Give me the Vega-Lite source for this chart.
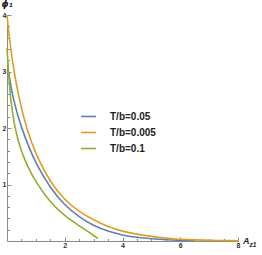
{
  "$schema": "https://vega.github.io/schema/vega-lite/v6.json",
  "autosize": "none",
  "width": 231,
  "height": 226,
  "padding": {"left": 7, "top": 15, "right": 24, "bottom": 14},
  "background": "white",
  "title": {
    "text": "z1",
    "orient": "bottom",
    "anchor": "end",
    "frame": "group",
    "align": "left",
    "baseline": "alphabetic",
    "offset": 0,
    "dx": 11.5,
    "dy": -2.5,
    "font": "Liberation Sans",
    "fontSize": 6.5,
    "fontStyle": "italic",
    "fontWeight": "bold",
    "color": "#222222"
  },
  "config": {
    "view": {"stroke": null},
    "font": "Liberation Sans"
  },
  "data": {"values": [
    {"series": "T/b=0.05", "A": 0.06, "phi": 2.98},
    {"series": "T/b=0.05", "A": 0.21, "phi": 2.5},
    {"series": "T/b=0.05", "A": 0.5, "phi": 2.0},
    {"series": "T/b=0.05", "A": 0.79, "phi": 1.62},
    {"series": "T/b=0.05", "A": 1.0, "phi": 1.38},
    {"series": "T/b=0.05", "A": 1.5, "phi": 0.93},
    {"series": "T/b=0.05", "A": 2.0, "phi": 0.63},
    {"series": "T/b=0.05", "A": 2.5, "phi": 0.42},
    {"series": "T/b=0.05", "A": 3.0, "phi": 0.27},
    {"series": "T/b=0.05", "A": 3.5, "phi": 0.17},
    {"series": "T/b=0.05", "A": 4.0, "phi": 0.1},
    {"series": "T/b=0.05", "A": 4.5, "phi": 0.065},
    {"series": "T/b=0.05", "A": 5.0, "phi": 0.04},
    {"series": "T/b=0.05", "A": 5.5, "phi": 0.02},
    {"series": "T/b=0.05", "A": 6.0, "phi": 0.01},
    {"series": "T/b=0.05", "A": 6.5, "phi": 0.005},
    {"series": "T/b=0.005", "A": 0.0, "phi": 4.0},
    {"series": "T/b=0.005", "A": 0.1, "phi": 3.5},
    {"series": "T/b=0.005", "A": 0.24, "phi": 3.0},
    {"series": "T/b=0.005", "A": 0.44, "phi": 2.47},
    {"series": "T/b=0.005", "A": 0.67, "phi": 2.0},
    {"series": "T/b=0.005", "A": 1.0, "phi": 1.52},
    {"series": "T/b=0.005", "A": 1.5, "phi": 1.04},
    {"series": "T/b=0.005", "A": 2.0, "phi": 0.72},
    {"series": "T/b=0.005", "A": 2.5, "phi": 0.52},
    {"series": "T/b=0.005", "A": 3.0, "phi": 0.37},
    {"series": "T/b=0.005", "A": 3.5, "phi": 0.25},
    {"series": "T/b=0.005", "A": 4.0, "phi": 0.17},
    {"series": "T/b=0.005", "A": 4.5, "phi": 0.12},
    {"series": "T/b=0.005", "A": 5.0, "phi": 0.08},
    {"series": "T/b=0.005", "A": 5.5, "phi": 0.05},
    {"series": "T/b=0.005", "A": 6.0, "phi": 0.03},
    {"series": "T/b=0.005", "A": 6.5, "phi": 0.02},
    {"series": "T/b=0.005", "A": 7.0, "phi": 0.012},
    {"series": "T/b=0.005", "A": 8.0, "phi": 0.005},
    {"series": "T/b=0.1", "A": 0.0, "phi": 3.42},
    {"series": "T/b=0.1", "A": 0.05, "phi": 3.0},
    {"series": "T/b=0.1", "A": 0.12, "phi": 2.5},
    {"series": "T/b=0.1", "A": 0.27, "phi": 2.0},
    {"series": "T/b=0.1", "A": 0.45, "phi": 1.65},
    {"series": "T/b=0.1", "A": 0.7, "phi": 1.33},
    {"series": "T/b=0.1", "A": 1.0, "phi": 1.04},
    {"series": "T/b=0.1", "A": 1.5, "phi": 0.68},
    {"series": "T/b=0.1", "A": 2.0, "phi": 0.44},
    {"series": "T/b=0.1", "A": 2.5, "phi": 0.27},
    {"series": "T/b=0.1", "A": 2.8, "phi": 0.17},
    {"series": "T/b=0.1", "A": 3.0, "phi": 0.1},
    {"series": "T/b=0.1", "A": 3.15, "phi": 0.04}
  ]},
  "mark": {"type": "line", "strokeWidth": 1.6, "interpolate": "basis", "clip": false},
  "encoding": {
    "x": {
      "field": "A", "type": "quantitative",
      "scale": {"domain": [0, 8], "nice": false, "zero": false},
      "axis": {
        "title": "A",
        "titleX": 235.5,
        "titleY": 2,
        "titleAlign": "left",
        "titleBaseline": "alphabetic",
        "titleFont": "Liberation Sans",
        "titleFontSize": 9,
        "titleFontStyle": "italic",
        "titleFontWeight": "bold",
        "titleColor": "#222222",
        "values": [0.5, 1, 1.5, 2, 2.5, 3, 3.5, 4, 4.5, 5, 5.5, 6, 6.5, 7, 7.5, 8],
        "labelExpr": "(datum.value == 2 || datum.value == 4 || datum.value == 6 || datum.value == 8) ? '' + datum.value : ''",
        "labelOverlap": false,
        "labelBound": false,
        "labelFlush": false,
        "domainColor": "#8a8a8a",
        "domainWidth": 1,
        "tickColor": "#8a8a8a",
        "tickSize": {"condition": {"test": "datum.value == 2 || datum.value == 4 || datum.value == 6 || datum.value == 8", "value": -4}, "value": -2.5},
        "labelFontSize": 7,
        "labelFontWeight": "bold",
        "labelColor": "#333333",
        "labelPadding": 4,
        "grid": false
      }
    },
    "y": {
      "field": "phi", "type": "quantitative",
      "scale": {"domain": [0, 4], "nice": false, "zero": false},
      "axis": {
        "title": "ϕ₁",
        "titleAngle": 0,
        "titleX": -6,
        "titleY": -8.5,
        "titleAlign": "left",
        "titleBaseline": "alphabetic",
        "titleFont": "DejaVu Sans",
        "titleFontSize": 9,
        "titleFontStyle": "italic",
        "titleFontWeight": "bold",
        "titleColor": "#222222",
        "values": [0.2, 0.4, 0.6, 0.8, 1, 1.2, 1.4, 1.6, 1.8, 2, 2.2, 2.4, 2.6, 2.8, 3, 3.2, 3.4, 3.6, 3.8, 4],
        "labelExpr": "(datum.value == 1 || datum.value == 2 || datum.value == 3 || datum.value == 4) ? '' + datum.value : ''",
        "labelOverlap": false,
        "labelBound": false,
        "labelFlush": false,
        "domainColor": "#8a8a8a",
        "domainWidth": 1,
        "tickColor": "#8a8a8a",
        "tickSize": {"condition": {"test": "datum.value == 1 || datum.value == 2 || datum.value == 3 || datum.value == 4", "value": -4}, "value": -2.5},
        "labelFontSize": 7,
        "labelFontWeight": "bold",
        "labelColor": "#333333",
        "labelPadding": 5,
        "grid": false
      }
    },
    "color": {
      "field": "series", "type": "nominal",
      "scale": {"domain": ["T/b=0.05", "T/b=0.005", "T/b=0.1"], "range": ["#5E81B5", "#E19C24", "#8FB032"]},
      "legend": {
        "title": null,
        "orient": "none",
        "legendX": 73,
        "legendY": 93,
        "symbolType": "stroke",
        "symbolSize": 220,
        "symbolStrokeWidth": 1.6,
        "labelFontSize": 10,
        "labelFontWeight": "bold",
        "labelColor": "#222222",
        "labelOffset": 13,
        "rowPadding": 2
      }
    }
  }
}
